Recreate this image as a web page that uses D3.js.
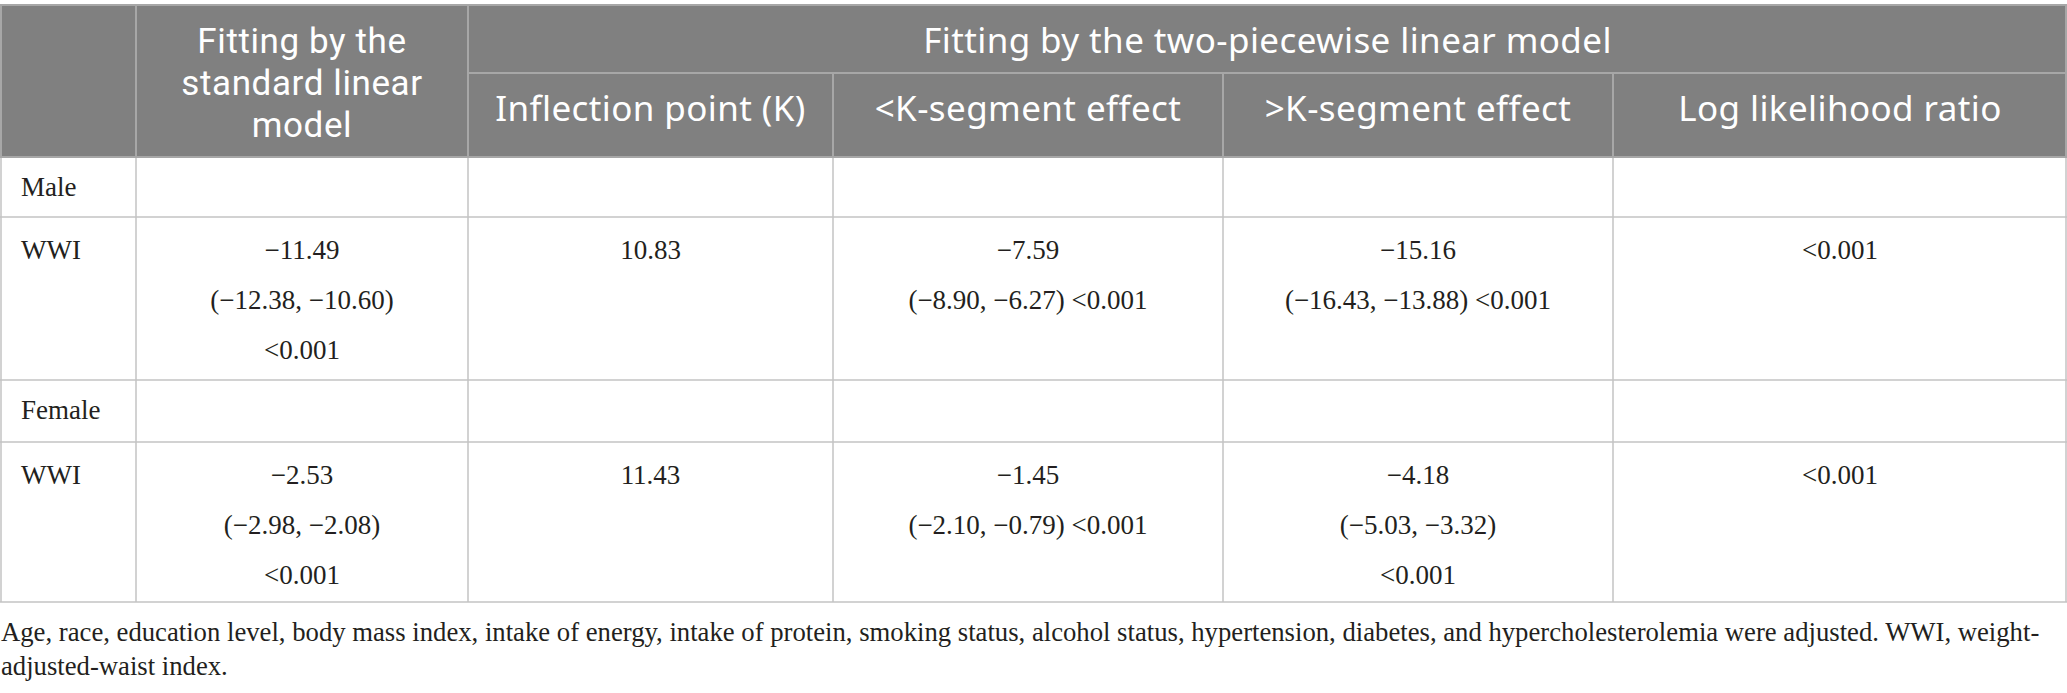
<!DOCTYPE html>
<html>
<head>
<meta charset="utf-8">
<script src="https://cdn.jsdelivr.net/npm/d3@7"></script>
<style>
  html, body { margin: 0; padding: 0; background: #fff; }
  svg { display: block; }
</style>
</head>
<body>
<svg id="tbl"></svg>
<script>
// table content
var topHeader = "Fitting by the two-piecewise linear model";
var firstHeader = ["Fitting by the", "standard linear", "model"];
var subHeaders = ["Inflection point (K)", "<K-segment effect", ">K-segment effect", "Log likelihood ratio"];
var groups = ["Male", "Female"];
var rowLabel = "WWI";
var maleCells = [
  ["\u221211.49", "(\u221212.38, \u221210.60)", "<0.001"],
  ["10.83"],
  ["\u22127.59", "(\u22128.90, \u22126.27) <0.001"],
  ["\u221215.16", "(\u221216.43, \u221213.88) <0.001"],
  ["<0.001"]
];
var femaleCells = [
  ["\u22122.53", "(\u22122.98, \u22122.08)", "<0.001"],
  ["11.43"],
  ["\u22121.45", "(\u22122.10, \u22120.79) <0.001"],
  ["\u22124.18", "(\u22125.03, \u22123.32)", "<0.001"],
  ["<0.001"]
];
var footnote = [
  "Age, race, education level, body mass index, intake of energy, intake of protein, smoking status, alcohol status, hypertension, diabetes, and hypercholesterolemia were adjusted. WWI, weight-",
  "adjusted-waist index."
];

var width = 2067, height = 693;
var svg = d3.select("#tbl").attr("width", width).attr("height", height);

// column edges and row edges (layout)
var colX = [0, 136, 468, 833, 1223, 1613, 2067];
var rowY = [5, 73, 157, 217, 380, 442, 602];
var headFont = "'Noto Sans', sans-serif", bodyFont = "'Liberation Serif', serif";
var headSize = 35, bodySize = 27, lineGap = 50;

function mid(i) { return (colX[i] + colX[i + 1]) / 2; }

// header background
svg.append("rect")
  .attr("x", 0).attr("y", rowY[0])
  .attr("width", width).attr("height", rowY[2] - rowY[0])
  .attr("fill", "#808080");

// header lines
var hl = svg.append("g").attr("stroke", "#a7a7a7").attr("stroke-width", 2);
hl.append("line").attr("x1", colX[2]).attr("x2", width).attr("y1", rowY[1]).attr("y2", rowY[1]);
colX.slice(1, -1).forEach(function(x, i) {
  hl.append("line").attr("x1", x).attr("x2", x)
    .attr("y1", i < 1 ? rowY[0] : rowY[1]).attr("y2", rowY[2]);
});
hl.append("line").attr("x1", colX[2]).attr("x2", colX[2]).attr("y1", rowY[0]).attr("y2", rowY[1]);

// body grid
var bl = svg.append("g").attr("stroke", "#c3c3c3").attr("stroke-width", 1.5);
rowY.slice(2).forEach(function(y) {
  bl.append("line").attr("x1", 0).attr("x2", width).attr("y1", y).attr("y2", y);
});
colX.forEach(function(x) {
  var xx = Math.min(Math.max(x, 1), width - 1);
  bl.append("line").attr("x1", xx).attr("x2", xx).attr("y1", rowY[2]).attr("y2", rowY[6]);
});
// outer border of header
svg.append("rect")
  .attr("x", 1).attr("y", rowY[0]).attr("width", width - 2).attr("height", rowY[2] - rowY[0])
  .attr("fill", "none").attr("stroke", "#a7a7a7").attr("stroke-width", 2);

// header text
var ht = svg.append("g").attr("fill", "#fff").attr("font-family", headFont)
  .attr("font-size", headSize).attr("letter-spacing", 0.4).attr("text-anchor", "middle");
// first column header wraps on three tight lines (Roboto has shorter line box)
ht.selectAll("text.first").data(firstHeader).enter().append("text")
  .attr("class", "first")
  .attr("font-family", "Roboto, sans-serif")
  .attr("letter-spacing", 0.6)
  .attr("x", mid(1))
  .attr("y", function(d, i) { return 53 + i * 42; })
  .text(function(d) { return d; });
ht.append("text")
  .attr("x", (colX[2] + width) / 2).attr("y", 53)
  .text(topHeader);
ht.selectAll("text.sub").data(subHeaders).enter().append("text")
  .attr("class", "sub")
  .attr("x", function(d, i) { return mid(i + 2); })
  .attr("y", 121)
  .text(function(d) { return d; });

// body text
var bt = svg.append("g").attr("fill", "#231f20").attr("font-family", bodyFont).attr("font-size", bodySize);
groups.forEach(function(g, gi) {
  var top = rowY[2 + gi * 2], wTop = rowY[3 + gi * 2];
  bt.append("text").attr("x", 21).attr("y", top + 39).text(g);
  bt.append("text").attr("x", 21).attr("y", wTop + 42).text(rowLabel);
  var cells = gi === 0 ? maleCells : femaleCells;
  cells.forEach(function(lines, ci) {
    bt.selectAll(null).data(lines).enter().append("text")
      .attr("text-anchor", "middle")
      .attr("x", mid(ci + 1))
      .attr("y", function(d, li) { return wTop + 42 + li * lineGap; })
      .text(function(d) { return d; });
  });
});

// footnote
svg.append("g").attr("fill", "#231f20").attr("font-family", bodyFont).attr("font-size", 26.7)
  .selectAll("text").data(footnote).enter().append("text")
  .attr("x", 1)
  .attr("y", function(d, i) { return 641 + i * 34; })
  .text(function(d) { return d; });
</script>
</body>
</html>
